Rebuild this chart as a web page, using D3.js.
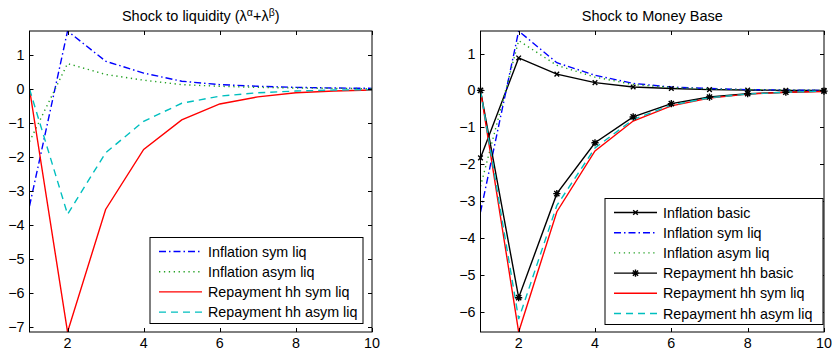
<!DOCTYPE html>
<html>
<head>
<meta charset="utf-8">
<script src="https://cdn.jsdelivr.net/npm/d3@7/dist/d3.min.js"></script>
<style>
  body { margin: 0; background: #fff; }
  svg { display: block; font-family: "Liberation Sans", Arial, sans-serif; }
</style>
</head>
<body>
<svg id="chart" width="832" height="351"></svg>
<script>
// horizon (quarters)
var periods = [1, 2, 3, 4, 5, 6, 7, 8, 9, 10];
var xTicks = [2, 4, 6, 8, 10];

// left panel: shock to liquidity
var infSymLiq   = [-3.45, 1.71, 0.82, 0.47, 0.23, 0.13, 0.08, 0.05, 0.03, 0.02];
var infAsymLiq  = [-1.55, 0.75, 0.43, 0.26, 0.13, 0.08, 0.05, 0.03, 0.02, 0.01];
var repSymLiq   = [0, -7.16, -3.55, -1.78, -0.91, -0.44, -0.23, -0.11, -0.06, -0.03];
var repAsymLiq  = [0, -3.69, -1.88, -0.95, -0.42, -0.21, -0.11, -0.06, -0.03, -0.02];
var leftYTicks  = [1, 0, -1, -2, -3, -4, -5, -6, -7];

// right panel: shock to money base
var infBasic    = [-1.83, 0.88, 0.44, 0.21, 0.09, 0.05, 0.02, 0.01, 0.0, 0.0];
var infSymMB    = [-3.3, 1.61, 0.75, 0.41, 0.19, 0.09, 0.05, 0.02, 0.01, 0.0];
var infAsymMB   = [-2.6, 1.35, 0.68, 0.36, 0.16, 0.08, 0.04, 0.02, 0.01, 0.0];
var repBasic    = [0, -5.62, -2.8, -1.42, -0.72, -0.36, -0.18, -0.09, -0.05, -0.02];
var repSymMB    = [0, -6.55, -3.29, -1.64, -0.83, -0.42, -0.21, -0.1, -0.05, -0.03];
var repAsymMB   = [0, -6.2, -3.12, -1.56, -0.79, -0.4, -0.2, -0.1, -0.05, -0.02];
var rightYTicks = [1, 0, -1, -2, -3, -4, -5, -6];

// line styles (matlab-ish)
var styles = {
    basicX:   { color: '#000', dash: null, marker: 'x' },
    basicS:   { color: '#000', dash: null, marker: 'star' },
    sym:      { color: '#0000ff', dash: '7,3,1.5,3', marker: null },
    asym:     { color: '#22a022', dash: '1.3,3.6', marker: null },
    repSym:   { color: '#ff0000', dash: null, marker: null },
    repAsym:  { color: '#00bfbf', dash: '7,5', marker: null }
};

var svg = d3.select('#chart');
var fontSize = 14.3;

function drawPanel(opt) {
    var x = d3.scaleLinear().domain([1, 10]).range([opt.left, opt.right]);
    var all = [];
    opt.series.forEach(function(s) { all = all.concat(s.values); });
    // axis tight
    var y = d3.scaleLinear().domain(d3.extent(all)).range([opt.bottom, opt.top]);

    var g = svg.append('g');
    var clipId = 'clip' + opt.id;
    g.append('clipPath').attr('id', clipId).append('rect')
        .attr('x', opt.left).attr('y', opt.top)
        .attr('width', opt.right - opt.left).attr('height', opt.bottom - opt.top);

    // title
    var title = g.append('text')
        .attr('x', (opt.left + opt.right) / 2)
        .attr('y', 21)
        .attr('text-anchor', 'middle')
        .attr('font-size', 14.5)
        .attr('fill', '#000');
    opt.title.forEach(function(p) {
        var t = title.append('tspan').text(p.text);
        if (p.sup) t.attr('font-size', 10.5).attr('baseline-shift', '45%');
    });

    var line = d3.line()
        .x(function(d, i) { return x(periods[i]); })
        .y(function(d) { return y(d); });

    var plot = g.append('g').attr('clip-path', 'url(#' + clipId + ')');
    opt.series.forEach(function(s) {
        var st = styles[s.style];
        plot.append('path')
            .attr('d', line(s.values))
            .attr('fill', 'none')
            .attr('stroke', st.color)
            .attr('stroke-width', 1.4)
            .attr('stroke-dasharray', st.dash)
            .attr('stroke-linejoin', 'miter');
        if (st.marker) {
            s.values.forEach(function(v, i) {
                drawMarker(g, st.marker, x(periods[i]), y(v), st.color);
            });
        }
    });

    // box
    g.append('rect')
        .attr('x', opt.left).attr('y', opt.top)
        .attr('width', opt.right - opt.left).attr('height', opt.bottom - opt.top)
        .attr('fill', 'none').attr('stroke', '#000').attr('stroke-width', 1);

    // ticks inside, on all four sides
    var tl = 4;
    xTicks.forEach(function(t) {
        var xx = Math.round(x(t)) + 0.5;
        g.append('line').attr('x1', xx).attr('x2', xx)
            .attr('y1', opt.bottom).attr('y2', opt.bottom - tl).attr('stroke', '#000');
        g.append('line').attr('x1', xx).attr('x2', xx)
            .attr('y1', opt.top).attr('y2', opt.top + tl).attr('stroke', '#000');
        g.append('text').attr('x', x(t)).attr('y', opt.bottom + 16)
            .attr('text-anchor', 'middle').attr('font-size', fontSize)
            .text(t);
    });
    opt.yTicks.forEach(function(t) {
        var yy = Math.round(y(t)) + 0.5;
        g.append('line').attr('x1', opt.left).attr('x2', opt.left + tl)
            .attr('y1', yy).attr('y2', yy).attr('stroke', '#000');
        g.append('line').attr('x1', opt.right).attr('x2', opt.right - tl)
            .attr('y1', yy).attr('y2', yy).attr('stroke', '#000');
        g.append('text').attr('x', opt.left - 5).attr('y', y(t) + 5)
            .attr('text-anchor', 'end').attr('font-size', fontSize)
            .text(t < 0 ? '\u2212' + Math.abs(t) : t);
    });

    // legend
    var lg = opt.legend;
    g.append('rect')
        .attr('x', lg.x).attr('y', lg.y).attr('width', lg.w).attr('height', lg.h)
        .attr('fill', '#fff').attr('stroke', '#000').attr('stroke-width', 1);
    opt.series.forEach(function(s, i) {
        var st = styles[s.style];
        var ly = lg.y + 14 + i * 20.2;
        g.append('line')
            .attr('x1', lg.x + 9).attr('x2', lg.x + 52)
            .attr('y1', ly).attr('y2', ly)
            .attr('stroke', st.color).attr('stroke-width', 1.4)
            .attr('stroke-dasharray', st.dash);
        if (st.marker) drawMarker(g, st.marker, lg.x + 30.5, ly, st.color);
        g.append('text').attr('x', lg.x + 58).attr('y', ly + 5)
            .attr('font-size', fontSize).text(s.name);
    });
}

function drawMarker(g, type, cx, cy, color) {
    var r = type === 'x' ? 2.3 : 2.6;
    var p = 'M' + (cx - r) + ',' + (cy - r) + 'L' + (cx + r) + ',' + (cy + r) +
            'M' + (cx - r) + ',' + (cy + r) + 'L' + (cx + r) + ',' + (cy - r);
    if (type === 'star') {
        p += 'M' + cx + ',' + (cy - r - 1) + 'L' + cx + ',' + (cy + r + 1) +
             'M' + (cx - r - 1) + ',' + cy + 'L' + (cx + r + 1) + ',' + cy;
    }
    g.append('path').attr('d', p).attr('stroke', color)
        .attr('stroke-width', 1.4).attr('fill', 'none');
}

drawPanel({
    id: 'L', left: 29.5, right: 372, top: 31, bottom: 332,
    title: [{ text: 'Shock to liquidity (\u03bb' }, { text: '\u03b1', sup: true },
            { text: '+\u03bb' }, { text: '\u03b2', sup: true }, { text: ')' }],
    yTicks: leftYTicks,
    series: [
        { name: 'Inflation sym liq', values: infSymLiq, style: 'sym' },
        { name: 'Inflation asym liq', values: infAsymLiq, style: 'asym' },
        { name: 'Repayment hh sym liq', values: repSymLiq, style: 'repSym' },
        { name: 'Repayment hh asym liq', values: repAsymLiq, style: 'repAsym' }
    ],
    legend: { x: 150, y: 237.5, w: 213, h: 86 }
});

drawPanel({
    id: 'R', left: 480.5, right: 824, top: 31, bottom: 332,
    title: [{ text: 'Shock to Money Base' }],
    yTicks: rightYTicks,
    series: [
        { name: 'Inflation basic', values: infBasic, style: 'basicX' },
        { name: 'Inflation sym liq', values: infSymMB, style: 'sym' },
        { name: 'Inflation asym liq', values: infAsymMB, style: 'asym' },
        { name: 'Repayment hh basic', values: repBasic, style: 'basicS' },
        { name: 'Repayment hh sym liq', values: repSymMB, style: 'repSym' },
        { name: 'Repayment hh asym liq', values: repAsymMB, style: 'repAsym' }
    ],
    legend: { x: 605, y: 198.5, w: 218, h: 126 }
});
</script>
</body>
</html>
